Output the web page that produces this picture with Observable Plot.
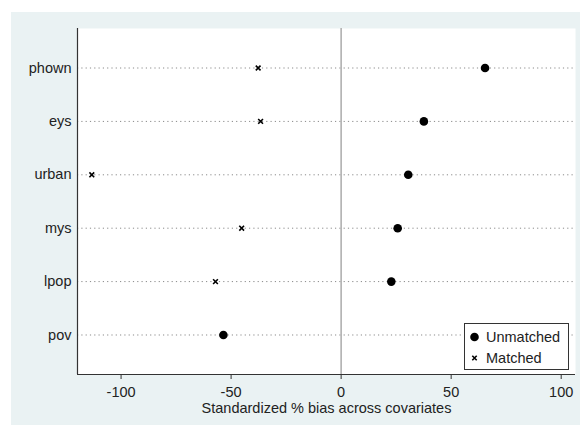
<!DOCTYPE html>
<html><head><meta charset="utf-8">
<script src="https://cdn.jsdelivr.net/npm/d3@7"></script>
<script src="https://cdn.jsdelivr.net/npm/@observablehq/plot@0.6"></script>
<style>
body{margin:0;background:#fff;font-family:"Liberation Sans",Arial,sans-serif;}
#wrap{position:relative;width:580px;height:425px;overflow:hidden;background:#fff;}
#chart{position:absolute;left:11px;top:12px;}
#legend{position:absolute;left:464px;top:323px;width:105px;height:47px;box-sizing:border-box;border:1.3px solid #333;background:#fff;font-size:14.5px;color:#222;}
#legend .row{position:absolute;left:0;height:20px;line-height:20px;}
#legend svg{position:absolute;left:0;top:0;}
#legend span{position:absolute;left:21px;white-space:nowrap;}
</style></head><body>
<div id="wrap"><div id="chart"></div>
<div id="legend">
  <div class="row" style="top:3px;width:100%"><svg width="20" height="20"><circle cx="9.5" cy="10" r="4.3" fill="#000"/></svg><span>Unmatched</span></div>
  <div class="row" style="top:24px;width:100%"><svg width="20" height="20"><path d="M7.3,7.8L11.7,12.2M11.7,7.8L7.3,12.2" stroke="#000" stroke-width="1.6"/></svg><span>Matched</span></div>
</div>
</div>
<script>
const covariates = ["phown", "eys", "urban", "mys", "lpop", "pov"];
const unmatched = [65.4, 37.6, 30.5, 25.7, 22.8, -53.5];
const matched = [-37.7, -36.6, -113.3, -45.2, -57.1, -53.5];
const xTicks = [-100, -50, 0, 50, 100];
const xLabel = "Standardized % bias across covariates";

const n = covariates.length;
const rows = covariates.map((c, i) => ({cov: c, pos: n - 1 - i, unmatched: unmatched[i], matched: matched[i]}));
const xDomain = [-119.8, 106.5];
const yDomain = [-0.74, n - 1 + 0.74];

const plot = Plot.plot({
  width: 569, height: 413,
  marginLeft: 66, marginRight: 5, marginTop: 16, marginBottom: 51,
  style: {background: "#eaf2f3", fontFamily: "'Liberation Sans', Arial, sans-serif", fontSize: "14.5px", color: "#222", overflow: "visible"},
  x: {domain: xDomain},
  y: {domain: yDomain},
  marks: [
    Plot.frame({fill: "white", stroke: "none"}),
    Plot.ruleY(rows, {y: "pos", stroke: "#8a8a8a", strokeDasharray: "1.2,3.1", strokeWidth: 1}),
    Plot.ruleX([0], {stroke: "#b0b0b0", strokeWidth: 1.6}),
    Plot.ruleX([xDomain[0]], {stroke: "#333", strokeWidth: 1.2}),
    Plot.ruleY([yDomain[0]], {stroke: "#333", strokeWidth: 1.2}),
    Plot.axisX({ticks: xTicks, tickFormat: d => String(d), tickSize: 5, tickPadding: 7, label: null, stroke: "#333", fontSize: 14.5}),
    Plot.axisY({ticks: rows.map(d => d.pos), tickFormat: p => covariates[n - 1 - p], tickSize: 0, tickPadding: 6, label: null, fontSize: 14.5}),
    Plot.text([xLabel], {text: d => d, frameAnchor: "bottom", dy: 33.5, lineAnchor: "middle", fontSize: 14.5, fill: "#222"}),
    Plot.dot(rows, {x: "matched", y: "pos", symbol: "times", r: 2.3, stroke: "#000", strokeWidth: 1.6}),
    Plot.dot(rows, {x: "unmatched", y: "pos", r: 4.3, fill: "#000", stroke: "none"})
  ]
});
document.getElementById("chart").appendChild(plot);
</script>
</body></html>
